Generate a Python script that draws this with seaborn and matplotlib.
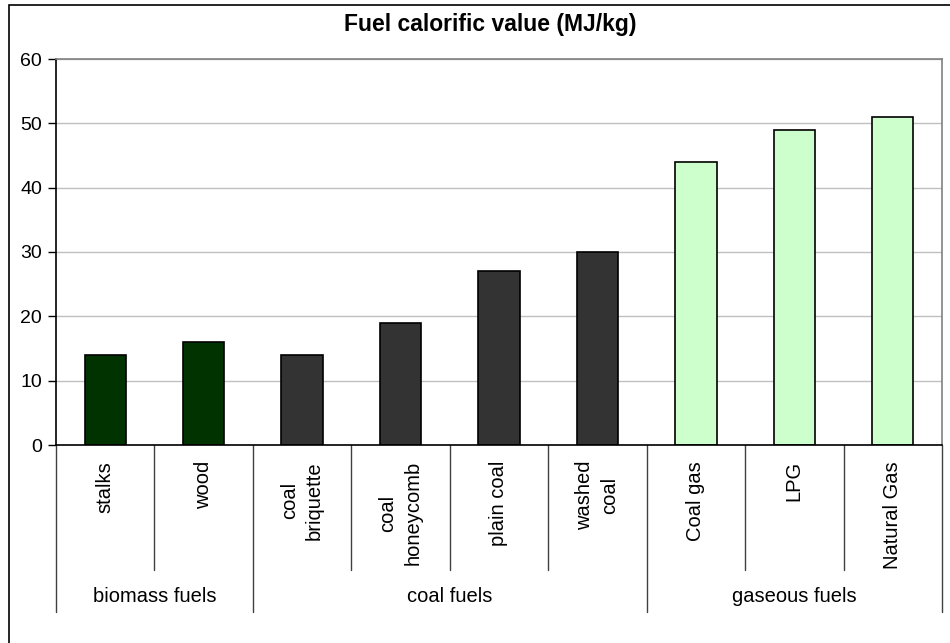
import pandas as pd
import numpy as np
import matplotlib.pyplot as plt
import seaborn as sns
from matplotlib.patches import Rectangle

sns.set_theme(style='white')
plt.rcParams['font.family'] = ['Liberation Sans', 'DejaVu Sans']
plt.rcParams['text.color'] = 'black'
plt.rcParams['ytick.color'] = 'black'
plt.rcParams['ytick.labelcolor'] = 'black'

# Data
fuels = ['stalks', 'wood', 'coal\nbriquette', 'coal\nhoneycomb', 'plain coal',
         'washed\ncoal', 'Coal gas', 'LPG', 'Natural Gas']
groups = ['biomass fuels', 'biomass fuels', 'coal fuels', 'coal fuels', 'coal fuels',
          'coal fuels', 'gaseous fuels', 'gaseous fuels', 'gaseous fuels']
values = [14, 16, 14, 19, 27, 30, 44, 49, 51]
group_names = ['biomass fuels', 'coal fuels', 'gaseous fuels']
group_colors = ['#003300', '#333333', '#CCFFCC']

df = pd.DataFrame({'Fuel': fuels, 'Group': groups, 'Value': values})

fig = plt.figure(figsize=(9.5, 6.43), dpi=100)
ax = fig.add_axes([56 / 950, (643 - 445) / 643, (942 - 56) / 950, (445 - 59) / 643])

sns.barplot(data=df, x='Fuel', y='Value', hue='Group', hue_order=group_names,
            palette=group_colors, saturation=1, dodge=False, width=0.42,
            edgecolor='black', linewidth=1.2, legend=False, ax=ax)

ax.set_ylim(0, 60)
ax.set_xlim(-0.5, len(fuels) - 0.5)
ax.set_yticks(range(0, 61, 10))
ax.yaxis.grid(True, color='#C0C0C0', linewidth=1)
ax.set_axisbelow(True)
ax.set_xlabel('')
ax.set_ylabel('')
ax.tick_params(axis='y', left=True, length=6, width=1, color='black', pad=4, labelsize=14)
ax.tick_params(axis='x', bottom=False, labelbottom=False)

for s in ['left', 'bottom']:
    ax.spines[s].set_color('black')
    ax.spines[s].set_linewidth(1.2)
for s in ['top', 'right']:
    ax.spines[s].set_color('#808080')
    ax.spines[s].set_linewidth(1.2)

# Multi-level category axis
trans = ax.get_xaxis_transform()
ax_h = 445 - 59
sub_depth = -125 / ax_h
grp_depth = -167 / ax_h
starts = [0]
for i in range(1, len(groups)):
    if groups[i] != groups[i - 1]:
        starts.append(i)
starts.append(len(groups))
for i in range(len(fuels) + 1):
    depth = grp_depth if i in starts else sub_depth
    ax.plot([i - 0.5, i - 0.5], [0, depth], transform=trans, color='#404040',
            linewidth=1, clip_on=False)

for i, name in enumerate(fuels):
    ax.text(i, -16 / ax_h, name, transform=trans, rotation=90, ha='center', va='top',
            multialignment='center', fontsize=14.5, linespacing=1.4)

for a, b in zip(starts[:-1], starts[1:]):
    ax.text((a + b - 1) / 2, -152 / ax_h, groups[a], transform=trans, ha='center',
            va='center', fontsize=14.5)

fig.text(490 / 950, 1 - 25 / 643, 'Fuel calorific value (MJ/kg)',
         ha='center', va='center', fontsize=16.5, fontweight='bold')

# Outer chart frame
fig.patches.append(Rectangle((9 / 950, -0.1), 1.2, 1.1 - 5 / 643, transform=fig.transFigure,
                             fill=False, edgecolor='black', linewidth=1.2))

fig.savefig('out.png', dpi=100)
